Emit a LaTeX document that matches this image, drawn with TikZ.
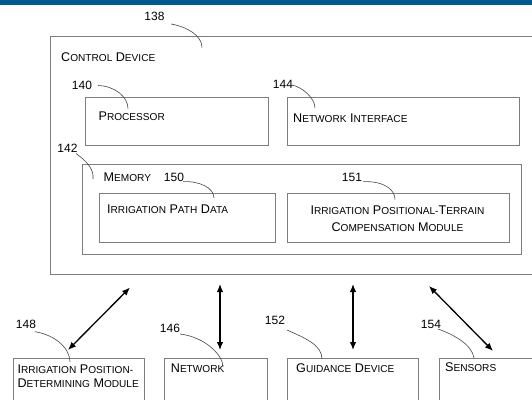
\documentclass[tikz,border=0pt]{standalone}
\usepackage{fontspec}
\setmainfont{Liberation Sans}
\usetikzlibrary{arrows.meta}
\definecolor{barblue}{RGB}{0,90,140}
\definecolor{boxgray}{RGB}{125,125,125}
\definecolor{leadgray}{RGB}{70,70,70}
\newcommand\capL[1]{{\fontsize{12.6}{14}\selectfont #1}}
\newcommand\capS[1]{{\fontsize{10.1}{12}\selectfont #1}}
\tikzset{
  box/.style={draw=boxgray, line width=1pt, anchor=north west, inner sep=0pt},
  lbl/.style={anchor=base west, inner sep=0pt, font=\fontsize{12.6}{14}\selectfont},
  num/.style={inner sep=0pt, font=\fontsize{12}{14}\selectfont},
  leader/.style={draw=leadgray, line width=0.6pt},
  link/.style={line width=1.3pt, {Latex[length=8pt,width=6.5pt]}-{Latex[length=8pt,width=6.5pt]}},
}
\begin{document}
\begin{tikzpicture}[x=1pt,y=-1pt]
\useasboundingbox (0,0) rectangle (532,399);
\clip (0,0) rectangle (532,399);
\fill[white] (0,0) rectangle (532,399);
\fill[barblue] (0,0) rectangle (532,4.5);

% boxes
\node[box, minimum width=495, minimum height=238] (ctrl) at (50,36) {};
\node[box, minimum width=183, minimum height=48] (proc) at (85,97) {};
\node[box, minimum width=232, minimum height=48] (ni) at (287,97) {};
\node[box, minimum width=439, minimum height=90] (mem) at (82,164) {};
\node[box, minimum width=176, minimum height=49] (ipd) at (99,193) {};
\node[box, minimum width=222, minimum height=49] (iptc) at (287,193) {};
\node[box, minimum width=131, minimum height=60] (ipm) at (13,358) {};
\node[box, minimum width=103, minimum height=60] (net) at (164,358) {};
\node[box, minimum width=131, minimum height=60] (gd) at (287,358) {};
\node[box, minimum width=110, minimum height=60] (sen) at (439,358) {};

% texts
\node[lbl] (tctrl) at (61,61) {\capL{C}\capS{ONTROL} \capL{D}\capS{EVICE}};
\node[lbl] (tproc) at (98.4,120) {\capL{P}\capS{ROCESSOR}};
\node[lbl] (tni) at (293,122) {\capL{N}\capS{ETWORK} \capL{I}\capS{NTERFACE}};
\node[lbl] (tmem) at (103.5,181.5) {\capL{M}\capS{EMORY}};
\node[lbl] (tipd) at (107,213) {\capL{I}\capS{RRIGATION} \capL{P}\capS{ATH} \capL{D}\capS{ATA}};
\node[lbl, anchor=base] (tiptca) at (397.5,214.8) {\capL{I}\capS{RRIGATION} \capL{P}\capS{OSITIONAL-}\capL{T}\capS{ERRAIN}};
\node[lbl, anchor=base] (tiptcb) at (397.5,231) {\capL{C}\capS{OMPENSATION} \capL{M}\capS{ODULE}};
\node[lbl] (tipma) at (17.3,373) {\capL{I}\capS{RRIGATION} \capL{P}\capS{OSITION-}};
\node[lbl] (tipmb) at (17.3,387) {\capL{D}\capS{ETERMINING} \capL{M}\capS{ODULE}};
\node[lbl] (tnet) at (170.7,372) {\capL{N}\capS{ETWORK}};
\node[lbl] (tgd) at (296,372) {\capL{G}\capS{UIDANCE} \capL{D}\capS{EVICE}};
\node[lbl] (tsen) at (445,371) {\capL{S}\capS{ENSORS}};

% reference numbers
\node[num] (n138) at (154.5,16.5) {138};
\node[num] (n140) at (82,85) {140};
\node[num] (n144) at (283,84) {144};
\node[num] (n142) at (67.5,148) {142};
\node[num] (n150) at (174,177) {150};
\node[num] (n151) at (352,177) {151};
\node[num] (n148) at (26,324) {148};
\node[num] (n146) at (170,328) {146};
\node[num] (n152) at (275,320) {152};
\node[num] (n154) at (431,324) {154};

% leaders
\draw[leader] (171,24) .. controls (188,27) and (202,36) .. (202,47.5);
\draw[leader] (98,85.5) .. controls (115,86) and (128,97) .. (128,108.6);
\draw[leader] (292,85) .. controls (302,87) and (315,98) .. (315,108);
\draw[leader] (76,153.5) .. controls (88,162) and (94,170) .. (93,179);
\draw[leader] (183,181.6) .. controls (200,181) and (214,188) .. (214,198);
\draw[leader] (363,181.6) .. controls (385,181) and (395,190) .. (395,199.5);
\draw[leader] (35,331.7) .. controls (55,335) and (70,348) .. (70,362);
\draw[leader] (180,334) .. controls (205,337) and (223,355) .. (223,367);
\draw[leader] (287,330) .. controls (305,338) and (322,345) .. (322,359);
\draw[leader] (438,329) .. controls (455,335) and (472,345) .. (474,358);

% links
\coordinate (aat) at (130,287.5);
\coordinate (aab) at (68,350);
\coordinate (abt) at (220,284);
\coordinate (abb) at (220,350);
\coordinate (act) at (353,284);
\coordinate (acb) at (353,350);
\coordinate (adt) at (429,286);
\coordinate (adb) at (493,351);
\draw[link] (aat) -- (aab);
\draw[link] (abt) -- (abb);
\draw[link] (act) -- (acb);
\draw[link] (adt) -- (adb);
\end{tikzpicture}
\end{document}
